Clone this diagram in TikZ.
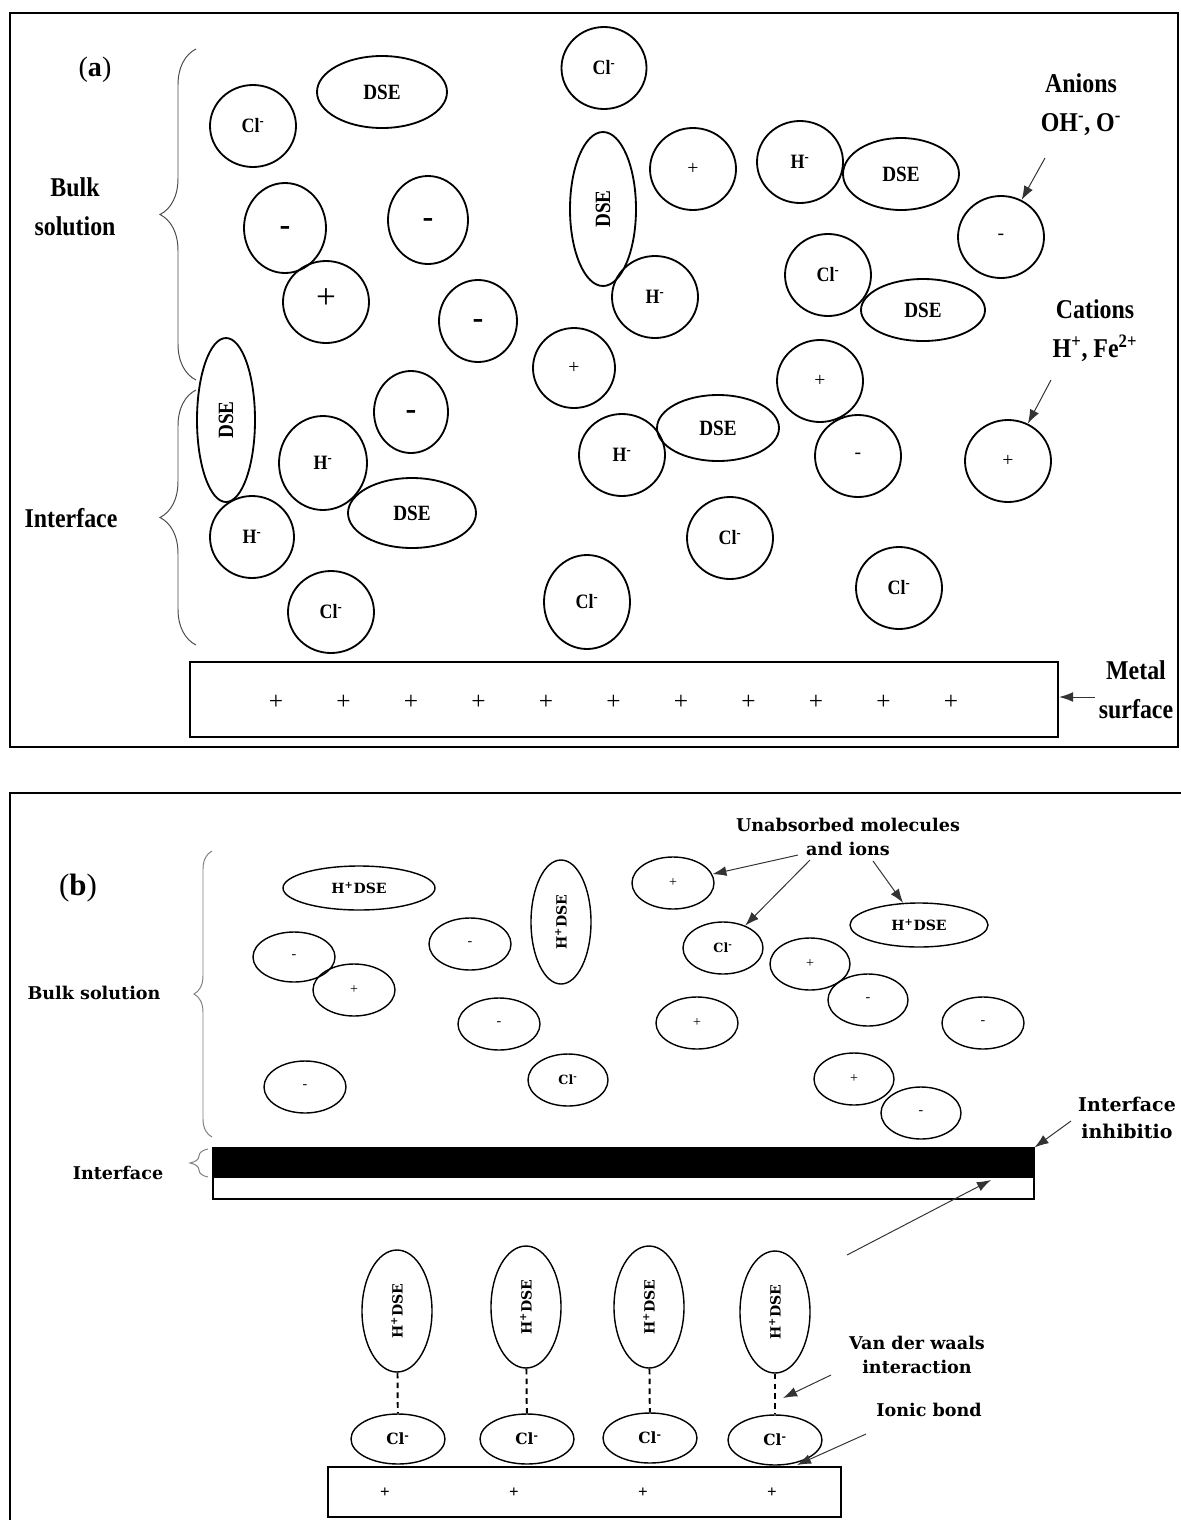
\documentclass[tikz,border=0pt]{standalone}
\usepackage{fontspec}
\setmainfont{Liberation Serif}
\newfontfamily\condfont[FakeStretch=0.88]{Liberation Serif}
\newfontfamily\widefont{DejaVu Serif}
\usetikzlibrary{shapes.geometric,arrows.meta,decorations.pathreplacing,matrix,calc}
\newcommand{\pxu}{0.025cm}
\newcommand{\clm}{Cl\textsuperscript{-}}
\newcommand{\hm}{H\textsuperscript{-}}
\newcommand{\hdse}{H\textsuperscript{+}DSE}
\newcommand{\vtxt}[1]{\rotatebox{90}{#1}}
\tikzset{
    ionsty/.style 2 args={draw,ellipse,line width=1.3pt,inner sep=0pt,minimum width=#1*\pxu,minimum height=#2*\pxu},
    bionsty/.style 2 args={draw,ellipse,line width=1pt,inner sep=0pt,minimum width=#1*\pxu,minimum height=#2*\pxu},
    txtsty/.style={font=\condfont\bfseries\fontsize{14.5}{16}\selectfont},
    dsesty/.style={font=\condfont\bfseries\fontsize{15.5}{17}\selectfont},
    bigpsty/.style={font=\fontsize{25}{25}\selectfont,text height=0.96em,text depth=0pt},
    bigmsty/.style={font=\bfseries\fontsize{23}{23}\selectfont,text height=1.1em,text depth=0pt},
    smlsty/.style={font=\fontsize{14}{14}\selectfont},
    lblsty/.style={font=\condfont\bfseries\fontsize{19.3}{27.5}\selectfont,align=center,inner sep=0pt},
    blblsty/.style={font=\widefont\bfseries\fontsize{12.5}{17.5}\selectfont,align=center,inner sep=0pt},
    btxtsty/.style={font=\widefont\bfseries\fontsize{10}{12}\selectfont},
    bclsty/.style={font=\widefont\bfseries\fontsize{9}{10}\selectfont},
    bsmlsty/.style={font=\fontsize{10}{10}\selectfont},
    panelsty/.style={font=\fontsize{20}{20}\selectfont,inner sep=0pt},
    bracesty/.style={decorate,decoration={brace,amplitude=#1},draw=black!70,line width=0.7pt},
    framesty/.style={draw,line width=1.8pt},
    arrsty/.style={->,draw=black!80,line width=0.7pt},
    bondsty/.style={draw,line width=1.4pt,dash pattern=on 4pt off 3pt},
    metalsty/.style 2 args={draw,rectangle,line width=1.6pt,inner sep=0pt,minimum width=#1*\pxu,minimum height=#2*\pxu},
    plssty/.style={inner sep=0pt,minimum width=#1*\pxu},
}

\begin{document}
\begin{tikzpicture}[x=\pxu,y=-\pxu,>={Latex[length=10pt,width=7pt]}]
  \useasboundingbox (0,0) rectangle (1180,1520);

  \draw[framesty] (10,13) rectangle (1178,747);
  \node[panelsty] (lblA) at (95,70) {(\textbf{a})};
  \node[lblsty] (lblBulkA) at (75,207) {Bulk\\solution};
  \node[lblsty] (lblInterA) at (71,518) {Interface};
  \node[lblsty] (lblAnions) at (1081,105) {Anions\\OH\textsuperscript{-}, O\textsuperscript{-}};
  \node[lblsty] (lblCations) at (1095,331) {Cations\\H\textsuperscript{+}, Fe\textsuperscript{2+}};
  \node[lblsty] (lblMetal) at (1136,690) {Metal\\surface};
  \draw[bracesty=0.9cm] (196,380) -- (196,49);
  \draw[bracesty=0.9cm] (196,645) -- (196,390);

  \node[ionsty={86}{82},txtsty] (aCl1) at (253,126) {\clm};
  \node[ionsty={130}{72},dsesty] (aDSE1) at (382,92) {DSE};
  \node[ionsty={82}{90},bigmsty] (aM1) at (285,228) {-};
  \node[ionsty={80}{88},bigmsty] (aM2) at (428,220) {-};
  \node[ionsty={86}{82},bigpsty] (aP1) at (326,302) {+};
  \node[ionsty={78}{82},bigmsty] (aM3) at (478,321) {-};
  \node[ionsty={85}{82},txtsty] (aCl2) at (604,68) {\clm};
  \node[ionsty={66}{154},dsesty] (aDSE2) at (603,209) {\vtxt{DSE}};
  \node[ionsty={86}{82},smlsty] (aP2) at (693,169) {+};
  \node[ionsty={86}{82},txtsty] (aH1) at (800,162) {\hm};
  \node[ionsty={116}{72},dsesty] (aDSE3) at (901,174) {DSE};
  \node[ionsty={86}{82},smlsty] (aM4) at (1001,237) {-};
  \node[ionsty={86}{82},txtsty] (aH2) at (655,297) {\hm};
  \node[ionsty={86}{82},txtsty] (aCl3) at (828,275) {\clm};
  \node[ionsty={124}{62},dsesty] (aDSE4) at (923,310) {DSE};
  \node[ionsty={82}{80},smlsty] (aP3) at (574,368) {+};
  \node[ionsty={86}{82},smlsty] (aP4) at (820,381) {+};
  \node[ionsty={58}{164},dsesty] (aDSE5) at (226,420) {\vtxt{DSE}};
  \node[ionsty={74}{82},bigmsty] (aM5) at (411,412) {-};
  \node[ionsty={88}{94},txtsty] (aH3) at (323,463) {\hm};
  \node[ionsty={128}{70},dsesty] (aDSE6) at (412,513) {DSE};
  \node[ionsty={84}{82},txtsty] (aH4) at (252,537) {\hm};
  \node[ionsty={86}{82},txtsty] (aCl4) at (331,612) {\clm};
  \node[ionsty={86}{94},txtsty] (aCl5) at (587,602) {\clm};
  \node[ionsty={86}{82},txtsty] (aH5) at (622,455) {\hm};
  \node[ionsty={122}{66},dsesty] (aDSE7) at (718,428) {DSE};
  \node[ionsty={86}{82},smlsty] (aM6) at (858,456) {-};
  \node[ionsty={86}{82},smlsty] (aP5) at (1008,461) {+};
  \node[ionsty={86}{82},txtsty] (aCl6) at (730,538) {\clm};
  \node[ionsty={86}{82},txtsty] (aCl7) at (899,588) {\clm};

  \node[metalsty={868}{75}] (metalA) at (624,699.5) {};
  \matrix (plA) [matrix of nodes,
                 nodes = {plssty=67.5,font=\fontsize{18}{18}\selectfont},
                 column sep=0pt,
                 ampersand replacement=\&] at (613.5,702)
  {
  + \& + \& + \& + \& + \& + \& + \& + \& + \& + \& + \\
  };

  \coordinate (anionsTail) at (1045,158);
  \coordinate (cationsTail) at (1051,380);
  \coordinate (metalTail) at (1095,697);
  \draw[arrsty] (anionsTail) -- (aM4);
  \draw[arrsty] (cationsTail) -- (aP5);
  \draw[arrsty] (metalTail) -- (metalTail -| metalA.east);

  \draw[framesty] (10,1530) -- (10,793) -- (1182,793);
  \node[panelsty,font=\fontsize{22}{22}\selectfont] (lblB) at (78,888) {(\textbf{b})};
  \node[blblsty] (lblBulkB) at (94,993) {Bulk solution};
  \node[blblsty] (lblInterB) at (118,1173) {Interface};
  \node[blblsty] (lblUnabs) at (848,837) {Unabsorbed molecules\\and ions};
  \node[blblsty,font=\widefont\bfseries\fontsize{13.5}{19}\selectfont] (lblInhib) at (1127,1118) {Interface\\inhibitio};
  \node[blblsty] (lblVdw) at (917,1355) {Van der waals\\interaction};
  \node[blblsty] (lblIonic) at (929,1410) {Ionic bond};
  \draw[bracesty=0.45cm,draw=black!50] (212,1137) -- (212,851);
  \draw[bracesty=0.45cm,draw=black!50] (208,1177) -- (208,1149);

  \node[bionsty={152}{44},btxtsty] (bHD1) at (359,888) {\hdse};
  \node[bionsty={82}{50},bsmlsty] (bM1) at (294,957) {-};
  \node[bionsty={82}{52},bsmlsty] (bP1) at (354,990) {+};
  \node[bionsty={82}{52},bsmlsty] (bM2) at (470,944) {-};
  \node[bionsty={60}{124},btxtsty] (bHD2) at (561,922) {\vtxt{\hdse}};
  \node[bionsty={82}{52},bsmlsty] (bM3) at (499,1024) {-};
  \node[bionsty={82}{52},bsmlsty] (bM4) at (305,1087) {-};
  \node[bionsty={80}{52},bclsty] (bCl1) at (568,1080) {\clm};
  \node[bionsty={82}{52},bsmlsty] (bP2) at (673,883) {+};
  \node[bionsty={138}{44},btxtsty] (bHD3) at (919,925) {\hdse};
  \node[bionsty={80}{52},bclsty] (bCl2) at (723,948) {\clm};
  \node[bionsty={80}{52},bsmlsty] (bP3) at (810,964) {+};
  \node[bionsty={80}{52},bsmlsty] (bM5) at (868,1000) {-};
  \node[bionsty={82}{52},bsmlsty] (bP4) at (697,1023) {+};
  \node[bionsty={82}{52},bsmlsty] (bM6) at (983,1023) {-};
  \node[bionsty={80}{52},bsmlsty] (bP5) at (854,1079) {+};
  \node[bionsty={80}{52},bsmlsty] (bM7) at (921,1113) {-};

  \node[metalsty={821}{29},line width=0.8pt,fill=black] (interBlack) at (623.5,1162.5) {};
  \node[metalsty={821}{22},line width=0.8pt] (interWhite) at (623.5,1188) {};

  \node[bionsty={70}{122},btxtsty] (bHV1) at (397,1311) {\vtxt{\hdse}};
  \node[bionsty={70}{122},btxtsty] (bHV2) at (526,1307) {\vtxt{\hdse}};
  \node[bionsty={70}{122},btxtsty] (bHV3) at (649,1307) {\vtxt{\hdse}};
  \node[bionsty={70}{122},btxtsty] (bHV4) at (775,1312) {\vtxt{\hdse}};
  \node[bionsty={94}{50},btxtsty,font=\widefont\bfseries\fontsize{11}{12}\selectfont] (bCl3) at (398,1439) {\clm};
  \node[bionsty={94}{50},btxtsty,font=\widefont\bfseries\fontsize{11}{12}\selectfont] (bCl4) at (527,1439) {\clm};
  \node[bionsty={94}{50},btxtsty,font=\widefont\bfseries\fontsize{11}{12}\selectfont] (bCl5) at (650,1438) {\clm};
  \node[bionsty={94}{50},btxtsty,font=\widefont\bfseries\fontsize{11}{12}\selectfont] (bCl6) at (775,1440) {\clm};
  \draw[bondsty] (bHV1) -- (bCl3);
  \draw[bondsty] (bHV2) -- (bCl4);
  \draw[bondsty] (bHV3) -- (bCl5);
  \draw[bondsty] (bHV4) -- (bCl6);

  \node[metalsty={513}{50},line width=1.2pt] (metalB) at (584.5,1492) {};
  \matrix (plB) [matrix of nodes,
                 nodes = {plssty=129,font=\bfseries\fontsize{12}{12}\selectfont},
                 column sep=0pt,
                 ampersand replacement=\&] at (578.5,1493)
  {
  + \& + \& + \& + \\
  };

  \coordinate (unabsTailA) at (798,855);
  \coordinate (unabsTailB) at (810,860);
  \coordinate (unabsTailC) at (873,861);
  \coordinate (inhibTail) at (1071,1121);
  \coordinate (adsTail) at (847,1255);
  \coordinate (adsHead) at (991,1180);
  \coordinate (vdwTail) at (831,1375);
  \coordinate (vdwHead) at (783,1398);
  \coordinate (ionicTail) at (866,1434);
  \coordinate (ionicHead) at (797,1465);
  \draw[arrsty] (unabsTailA) -- (bP2);
  \draw[arrsty] (unabsTailB) -- (bCl2);
  \draw[arrsty] (unabsTailC) -- (bHD3);
  \draw[arrsty] (inhibTail) -- (interBlack.north east);
  \draw[arrsty] (adsTail) -- (adsHead);
  \draw[arrsty] (vdwTail) -- (vdwHead);
  \draw[arrsty] (ionicTail) -- (ionicHead);
\end{tikzpicture}
\end{document}
